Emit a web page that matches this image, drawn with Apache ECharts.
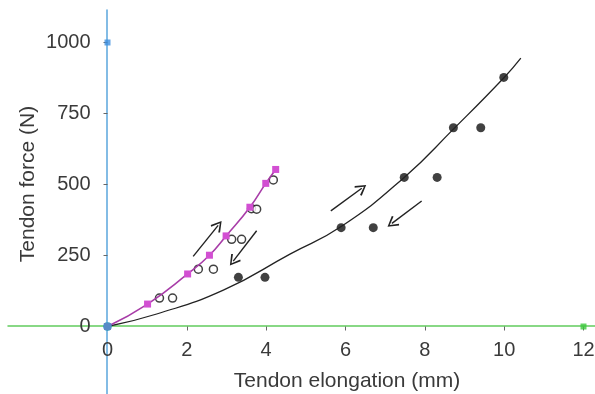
<!DOCTYPE html>
<html>
<head>
<meta charset="utf-8">
<script src="https://cdn.jsdelivr.net/npm/echarts@6/dist/echarts.min.js"></script>
<style>
  html, body { margin: 0; padding: 0; background: #fff; }
  #chart { width: 595px; height: 394px; }
</style>
</head>
<body>
<div id="chart"></div>
<script>
// tick labels
const xTicks = [0, 2, 4, 6, 8, 10, 12];
const yTicks = [0, 250, 500, 750, 1000];

// loading curve of the stiff tendon (pink squares), starts at origin
const pinkLoad = [[0, 0], [1.01, 79], [2.02, 185], [2.57, 251], [2.99, 319], [3.59, 420], [3.99, 504], [4.24, 553]];
// unloading points (open circles)
const openCircles = [[1.31, 100], [1.64, 100], [2.29, 202], [2.67, 202], [3.13, 307], [3.38, 307], [3.63, 415], [3.76, 413], [4.18, 516]];
// compliant tendon points (filled dots)
const filledDots = [[3.30, 173], [3.97, 173], [5.89, 348], [6.70, 348], [7.48, 525], [8.31, 525], [8.72, 700], [9.41, 700], [9.99, 877]];
// fitted curve through the compliant tendon loading points
const blackCurve = [[0, 0], [1.24, 44], [2.92, 128], [4.6, 255], [5.89, 352], [7.48, 525], [8.72, 695], [10, 877], [10.42, 945]];
// arrows: [tail, head]
const arrows = [
  [[2.16, 247], [2.79, 356]],
  [[3.76, 337], [3.17, 230]],
  [[5.63, 407], [6.41, 487]],
  [[7.92, 442], [7.17, 363]]
];

const font = "'Liberation Sans', Arial, sans-serif";
const textColor = '#3a3a3a';

const chart = echarts.init(document.getElementById('chart'), null, { renderer: 'canvas' });

const option = {
  animation: false,
  backgroundColor: '#fff',
  grid: [
    // long coloured axis lines crossing at the origin
    { left: 8, right: 0, top: 10, bottom: 0, containLabel: false, outerBoundsMode: 'none' },
    // the scaled plot area 0..12 x 0..1000
    { left: 107.5, top: 42.5, width: 476, height: 284, containLabel: false, outerBoundsMode: 'none' }
  ],
  xAxis: [
    {
      gridIndex: 0,
      type: 'value',
      min: -2.5,
      max: 12.3,
      splitLine: { show: false },
      axisLine: { onZero: true, lineStyle: { color: '#62cc5e', width: 1.5 } },
      axisTick: { show: false },
      axisLabel: { show: false }
    },
    {
      gridIndex: 1,
      type: 'value',
      min: 0,
      max: 12,
      interval: 2,
      splitLine: { show: false },
      axisLine: { show: false },
      axisTick: { length: 4, lineStyle: { color: '#666' } },
      axisLabel: { margin: 14, color: textColor, fontSize: 20, fontFamily: font, formatter: v => String(v) }
    }
  ],
  yAxis: [
    {
      gridIndex: 0,
      type: 'value',
      min: -240,
      max: 1115,
      splitLine: { show: false },
      axisLine: { onZero: true, lineStyle: { color: '#5aa6dc', width: 1.5 } },
      axisTick: { show: false },
      axisLabel: { show: false }
    },
    {
      gridIndex: 1,
      type: 'value',
      min: 0,
      max: 1000,
      interval: 250,
      splitLine: { show: false },
      axisLine: { show: false },
      axisTick: { length: 4, lineStyle: { color: '#666' } },
      axisLabel: { margin: 17, color: textColor, fontSize: 20, fontFamily: font, formatter: v => String(v) }
    }
  ],
  graphic: [
    {
      type: 'text',
      x: 28, y: 184,
      rotation: Math.PI / 2,
      style: { text: 'Tendon force (N)', fill: textColor, font: '21px ' + font, textAlign: 'center', textVerticalAlign: 'middle' }
    },
    {
      type: 'text',
      x: 347, y: 381,
      style: { text: 'Tendon elongation (mm)', fill: textColor, font: '21px ' + font, textAlign: 'center', textVerticalAlign: 'middle' }
    }
  ],
  series: [
    {
      type: 'line',
      xAxisIndex: 1,
      yAxisIndex: 1,
      data: blackCurve,
      smooth: true,
      showSymbol: false,
      clip: false,
      lineStyle: { color: '#222', width: 1.3 },
      silent: true,
      markLine: {
        silent: true,
        symbol: ['none', 'path://M5,0 L10,9 L8.8,10 L5,2.6 L1.2,10 L0,9 Z'],
        symbolSize: [12, 11],
        label: { show: false },
        lineStyle: { color: '#222', width: 1.4, type: 'solid' },
        data: arrows.map(a => [{ coord: a[0] }, { coord: a[1] }])
      }
    },
    {
      type: 'line',
      xAxisIndex: 1,
      yAxisIndex: 1,
      data: pinkLoad,
      smooth: true,
      clip: false,
      symbol: 'rect',
      symbolSize: 7,
      itemStyle: { color: '#d24fd2' },
      lineStyle: { color: '#a83ca8', width: 1.6 },
      silent: true
    },
    {
      type: 'scatter',
      xAxisIndex: 1,
      yAxisIndex: 1,
      data: openCircles,
      symbol: 'circle',
      symbolSize: 8,
      clip: false,
      itemStyle: { color: '#fff', borderColor: '#111', borderWidth: 1.5 },
      silent: true
    },
    {
      type: 'scatter',
      xAxisIndex: 1,
      yAxisIndex: 1,
      data: filledDots,
      symbol: 'circle',
      symbolSize: 9,
      clip: false,
      itemStyle: { color: '#111' },
      silent: true
    },
    {
      type: 'scatter',
      xAxisIndex: 1,
      yAxisIndex: 1,
      data: [[0, 1000]],
      symbol: 'rect',
      symbolSize: 6,
      clip: false,
      itemStyle: { color: '#3d8fe0' },
      silent: true
    },
    {
      type: 'scatter',
      xAxisIndex: 1,
      yAxisIndex: 1,
      data: [[12, 0]],
      symbol: 'rect',
      symbolSize: 6,
      clip: false,
      itemStyle: { color: '#3cc83c' },
      silent: true
    },
    {
      type: 'scatter',
      xAxisIndex: 1,
      yAxisIndex: 1,
      data: [[0, 0]],
      symbol: 'circle',
      symbolSize: 9,
      clip: false,
      z: 10,
      itemStyle: { color: '#3a9ac4' },
      silent: true
    }
  ]
};

chart.setOption(option);
</script>
</body>
</html>
